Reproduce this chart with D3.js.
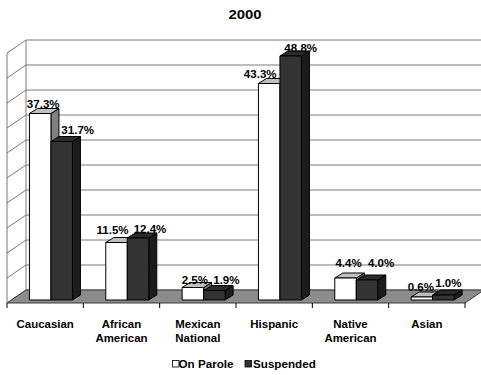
<!DOCTYPE html>
<html>
<head>
<meta charset="utf-8">
<script src="https://cdn.jsdelivr.net/npm/d3@7"></script>
<style>
  html, body { margin: 0; padding: 0; background: #fff; }
  svg { display: block; }
  text { font-family: "Liberation Sans", Arial, sans-serif; font-weight: bold; fill: #000; }
</style>
</head>
<body>
<svg id="chart" width="481" height="375"></svg>
<script>
// Share of population by ethnicity, 2000
const title = "2000";
const categories = ["Caucasian", "African American", "Mexican National", "Hispanic", "Native American", "Asian"];
const categoryLines = [["Caucasian"], ["African", "American"], ["Mexican", "National"], ["Hispanic"], ["Native", "American"], ["Asian"]];
const seriesNames = ["On Parole", "Suspended"];
const onParole = [37.3, 11.5, 2.5, 43.3, 4.4, 0.6];
const suspended = [31.7, 12.4, 1.9, 48.8, 4.0, 1.0];
const valueTicks = [0, 5, 10, 15, 20, 25, 30, 35, 40, 45, 50];

// Label placement tweaks (dx, dy) relative to each bar's front-top centre
const labelNudge = [
  [[3, -6], [-4, -9], [2, -4], [-9, -6], [3, -11], [-1, -6]],
  [[16, -8], [12, -5], [12, -7], [10, -4], [14, -13], [5, -8]]
];

const svg = d3.select("#chart");

// Oblique 3D geometry
const floorFrontY = 303;
const wallDX = 19, wallDY = -13;       // depth of the floor / side wall
const barDX = 8, barDY = -5;           // depth of each column
const barInset = 3;                    // columns sit slightly behind the floor's front edge
const barShiftX = barInset * wallDX / -wallDY;
const barFrontY = floorFrontY - barInset;
const backY = floorFrontY + wallDY;
const left = 7, right = 465;

const x = d3.scaleBand().domain(categories).range([left, right]).padding(0);
const h = d3.scaleLinear().domain([0, 50]).range([0, 250]);
const barW = 21.5;

// stretched text helper
function label(g, str, px, py, size, sx, anchor) {
  g.append("text")
    .attr("transform", `translate(${px},${py}) scale(${sx},1)`)
    .attr("text-anchor", anchor || "middle")
    .style("font-size", size + "px")
    .text(str);
}

// Title
label(svg, title, 245, 18.5, 13.5, 1.1);

// Walls
const walls = svg.append("g");
valueTicks.forEach(t => {
  const yb = backY - h(t);
  walls.append("line")
    .attr("x1", left).attr("y1", yb - wallDY).attr("x2", left + wallDX).attr("y2", yb)
    .attr("stroke", "#7a7a7a").attr("stroke-width", 1);
  walls.append("line")
    .attr("x1", left + wallDX).attr("y1", yb).attr("x2", 481).attr("y2", yb)
    .attr("stroke", "#7a7a7a").attr("stroke-width", 1);
});
walls.append("line")
  .attr("x1", left).attr("x2", left)
  .attr("y1", backY - h(50) - wallDY).attr("y2", floorFrontY)
  .attr("stroke", "#7a7a7a");
walls.append("line")
  .attr("x1", left + wallDX).attr("x2", left + wallDX)
  .attr("y1", backY - h(50)).attr("y2", backY)
  .attr("stroke", "#7a7a7a");

// Floor
svg.append("polygon")
  .attr("points", [
    [left, floorFrontY], [right, floorFrontY],
    [right + wallDX, backY], [left + wallDX, backY]
  ].map(p => p.join(",")).join(" "))
  .attr("fill", "#8c8c8c").attr("stroke", "#3a3a3a").attr("stroke-width", 1);

// Category ticks under the floor front edge
const tickXs = categories.map(c => x(c)).concat([right]);
svg.append("g").selectAll("line").data(tickXs).join("line")
  .attr("x1", d => d).attr("x2", d => d)
  .attr("y1", floorFrontY).attr("y2", floorFrontY + 5)
  .attr("stroke", "#000");

// Columns
const styles = [
  { front: "#ffffff", top: "#c0c0c0", side: "#808080" },
  { front: "#333333", top: "#2a2a2a", side: "#1c1c1c" }
];
const series = [onParole, suspended];
const bars = svg.append("g");
const labels = svg.append("g");

categories.forEach((c, i) => {
  const groupCenter = x(c) + x.bandwidth() / 2 + barShiftX + 1.4;
  series.forEach((vals, s) => {
    const v = vals[i];
    const x0 = groupCenter - barW + s * barW;
    const x1 = x0 + barW;
    const yTop = barFrontY - h(v);
    const st = styles[s];
    const g = bars.append("g").attr("stroke", "#000").attr("stroke-width", 1).attr("stroke-linejoin", "round");
    g.append("polygon")
      .attr("points", [[x1, barFrontY], [x1 + barDX, barFrontY + barDY], [x1 + barDX, yTop + barDY], [x1, yTop]].map(p => p.join(",")).join(" "))
      .attr("fill", st.side);
    g.append("polygon")
      .attr("points", [[x0, yTop], [x1, yTop], [x1 + barDX, yTop + barDY], [x0 + barDX, yTop + barDY]].map(p => p.join(",")).join(" "))
      .attr("fill", st.top);
    g.append("rect")
      .attr("x", x0).attr("y", yTop).attr("width", barW).attr("height", h(v))
      .attr("fill", st.front);
    const [ndx, ndy] = labelNudge[s][i];
    label(labels, d3.format(".1f")(v) + "%", (x0 + x1) / 2 + ndx, yTop + ndy, 11.3, 1.02);
  });
});

// Category labels
const catG = svg.append("g");
categories.forEach((c, i) => {
  const cx = x(c) + x.bandwidth() / 2;
  categoryLines[i].forEach((ln, j) => {
    label(catG, ln, cx, 327.5 + j * 14, 11, 1.04);
  });
});

// Legend
const leg = svg.append("g");
const legendItems = [
  { name: seriesNames[0], fill: "#ffffff", sx: 172.5, tx: 178.5 },
  { name: seriesNames[1], fill: "#333333", sx: 245, tx: 253 }
];
legendItems.forEach(d => {
  leg.append("rect")
    .attr("x", d.sx).attr("y", 360.5).attr("width", 6.5).attr("height", 6.5)
    .attr("fill", d.fill).attr("stroke", "#000").attr("stroke-width", 0.8);
  label(leg, d.name, d.tx, 368, 11, 1.06, "start");
});
</script>
</body>
</html>
